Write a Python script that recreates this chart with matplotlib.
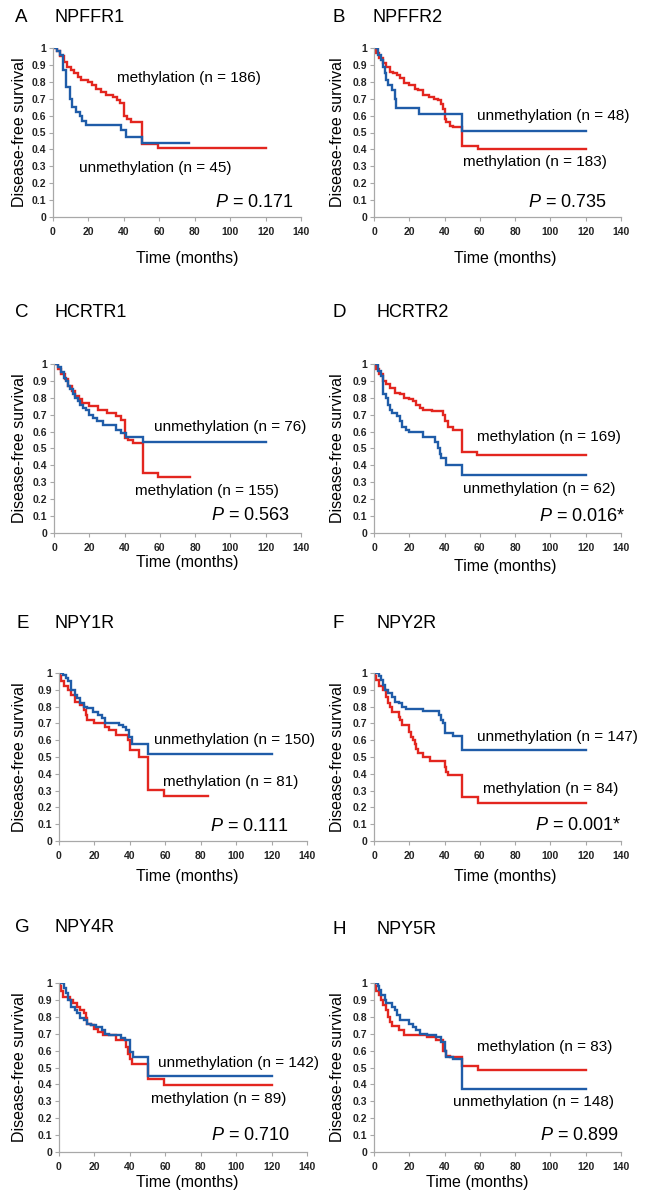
import matplotlib
matplotlib.use("Agg")
import matplotlib.pyplot as plt
from matplotlib import font_manager

# ---- data (time in months, survival fraction) ----
x_ticks = [0, 20, 40, 60, 80, 100, 120, 140]
y_ticks = [0, 0.1, 0.2, 0.3, 0.4, 0.5, 0.6, 0.7, 0.8, 0.9, 1]
y_tick_labels = ["0", "0.1", "0.2", "0.3", "0.4", "0.5", "0.6", "0.7", "0.8", "0.9", "1"]

letters = ["A", "B", "C", "D", "E", "F", "G", "H"]
genes = ["NPFFR1", "NPFFR2", "HCRTR1", "HCRTR2", "NPY1R", "NPY2R", "NPY4R", "NPY5R"]
meth_n = [186, 183, 155, 169, 81, 84, 89, 83]
unmeth_n = [45, 48, 76, 62, 150, 147, 142, 148]
p_values = ["0.171", "0.735", "0.563", "0.016*", "0.111", "0.001*", "0.710", "0.899"]

npffr1_meth_t = [0, 2, 4, 6, 8, 10, 12, 14, 16, 20, 22, 24, 27, 30, 34, 36, 38, 40, 42, 44, 50, 59, 120]
npffr1_meth_s = [1, 0.98, 0.95, 0.92, 0.89, 0.87, 0.85, 0.83, 0.81, 0.80, 0.78, 0.76, 0.74, 0.72, 0.71,
                 0.69, 0.675, 0.60, 0.58, 0.565, 0.43, 0.41, 0.41]
npffr1_unmeth_t = [0, 2, 4, 5.6, 7.5, 9.4, 11, 12.8, 15, 16.6, 18.5, 38.6, 41, 50.5, 77]
npffr1_unmeth_s = [1, 0.98, 0.96, 0.87, 0.77, 0.70, 0.65, 0.62, 0.60, 0.57, 0.545, 0.515, 0.475, 0.435, 0.435]

npffr2_meth_t = [0, 1, 3, 5, 7, 9, 11, 13, 15, 17, 20, 23, 25, 28, 31, 34, 36, 38, 39, 40, 41, 43, 45,
                 50, 59, 120]
npffr2_meth_s = [1, 0.97, 0.94, 0.91, 0.89, 0.86, 0.85, 0.84, 0.82, 0.79, 0.78, 0.76, 0.75, 0.72, 0.71,
                 0.70, 0.69, 0.67, 0.64, 0.58, 0.56, 0.54, 0.53, 0.42, 0.40, 0.40]
npffr2_unmeth_t = [0, 2, 4, 5, 6, 7, 8, 10, 11.7, 12.3, 25.5, 50.1, 120]
npffr2_unmeth_s = [1, 0.96, 0.93, 0.89, 0.85, 0.81, 0.78, 0.75, 0.70, 0.645, 0.61, 0.51, 0.51]

hcrtr1_meth_t = [0, 2, 4, 6, 8, 10, 12, 14, 15.7, 20, 25, 30, 35, 38, 40.2, 42, 45, 50.3, 59.1, 77]
hcrtr1_meth_s = [1, 0.97, 0.94, 0.91, 0.87, 0.84, 0.81, 0.79, 0.77, 0.75, 0.73, 0.71, 0.69, 0.67, 0.56,
                 0.55, 0.53, 0.355, 0.33, 0.33]
hcrtr1_unmeth_t = [0, 2, 4, 5.5, 7, 8, 9, 10.5, 12, 13.5, 15, 16.5, 18, 20, 22, 24.6, 28, 35, 38, 41,
                   50.3, 120]
hcrtr1_unmeth_s = [1, 0.98, 0.95, 0.92, 0.90, 0.87, 0.85, 0.82, 0.80, 0.78, 0.76, 0.74, 0.73, 0.70, 0.68,
                   0.66, 0.64, 0.61, 0.59, 0.57, 0.54, 0.54]

hcrtr2_meth_t = [0, 1, 3, 5, 7, 9, 12, 15, 17, 20, 22, 24, 26, 28, 33, 39, 40, 42, 45, 49.6, 58.6, 120]
hcrtr2_meth_s = [1, 0.97, 0.94, 0.90, 0.88, 0.86, 0.83, 0.82, 0.80, 0.79, 0.78, 0.76, 0.74, 0.73, 0.72,
                 0.70, 0.66, 0.625, 0.61, 0.48, 0.46, 0.46]
hcrtr2_unmeth_t = [0, 2, 4, 5, 7, 8, 9, 10, 13, 15, 16, 18, 20, 27.8, 34.4, 36.3, 37.3, 38.2, 41, 49.6, 120]
hcrtr2_unmeth_s = [1, 0.96, 0.93, 0.82, 0.80, 0.76, 0.73, 0.71, 0.69, 0.66, 0.63, 0.61, 0.595, 0.57, 0.54,
                   0.50, 0.47, 0.445, 0.40, 0.345, 0.345]

npy1r_meth_t = [0, 0.5, 1, 3, 5, 7, 9, 12, 14, 15, 16, 20, 26, 28, 32, 39, 40, 45, 50, 59, 84]
npy1r_meth_s = [1, 0.98, 0.95, 0.92, 0.90, 0.87, 0.83, 0.81, 0.78, 0.75, 0.72, 0.70, 0.68, 0.66, 0.63,
                0.60, 0.54, 0.50, 0.305, 0.27, 0.27]
npy1r_unmeth_t = [0, 2, 4, 5, 7, 9, 10, 12, 14, 16, 19, 22, 24, 26, 34, 36, 38, 39.5, 41, 50, 120]
npy1r_unmeth_s = [1, 0.99, 0.97, 0.95, 0.90, 0.87, 0.85, 0.82, 0.80, 0.79, 0.77, 0.75, 0.73, 0.705, 0.69,
                  0.68, 0.66, 0.62, 0.58, 0.515, 0.515]

npy2r_meth_t = [0, 0.5, 1, 3, 5, 7, 8, 9, 10, 14, 15, 16, 20, 21, 22, 23, 24, 25, 28, 32, 40, 41, 42,
                50, 59, 120]
npy2r_meth_s = [1, 0.98, 0.96, 0.92, 0.90, 0.86, 0.82, 0.80, 0.77, 0.74, 0.72, 0.69, 0.65, 0.62, 0.60,
                0.575, 0.55, 0.525, 0.50, 0.475, 0.44, 0.41, 0.39, 0.26, 0.225, 0.225]
npy2r_unmeth_t = [0, 3, 4, 5, 6, 8, 10, 12, 14, 16, 18, 28, 37, 38, 39, 40, 45, 50, 120]
npy2r_unmeth_s = [1, 0.98, 0.96, 0.93, 0.90, 0.88, 0.86, 0.83, 0.82, 0.80, 0.785, 0.775, 0.75, 0.72,
                  0.70, 0.645, 0.625, 0.54, 0.54]

npy4r_meth_t = [0, 0.5, 1, 2, 6, 8, 10, 12, 14, 15, 16, 18, 20, 22, 25, 32, 38, 39, 40, 41, 50, 59, 120]
npy4r_meth_s = [1, 0.98, 0.95, 0.92, 0.90, 0.88, 0.86, 0.84, 0.82, 0.79, 0.76, 0.75, 0.73, 0.71, 0.69,
                0.66, 0.62, 0.58, 0.55, 0.52, 0.43, 0.395, 0.395]
npy4r_unmeth_t = [0, 3, 4, 5, 6.5, 9, 10, 12, 14, 16, 18, 21, 24, 26, 28, 35, 37, 40, 42, 50, 120]
npy4r_unmeth_s = [1, 0.97, 0.94, 0.90, 0.86, 0.84, 0.82, 0.79, 0.78, 0.755, 0.75, 0.74, 0.72, 0.70, 0.69,
                  0.675, 0.66, 0.59, 0.565, 0.45, 0.45]

npy5r_meth_t = [0, 0.5, 1, 3, 4, 5, 7, 8, 9, 10, 14, 17, 30, 35, 39, 41, 43, 50, 59, 120]
npy5r_meth_s = [1, 0.98, 0.95, 0.93, 0.90, 0.87, 0.84, 0.80, 0.77, 0.745, 0.72, 0.695, 0.68, 0.665, 0.60,
                0.57, 0.56, 0.51, 0.485, 0.485]
npy5r_unmeth_t = [0, 2, 3, 4, 6, 7, 10, 12, 13, 15, 20, 22, 24, 26, 30, 35, 38, 40, 41, 45, 50, 120]
npy5r_unmeth_s = [1, 0.98, 0.96, 0.93, 0.90, 0.88, 0.86, 0.84, 0.81, 0.78, 0.76, 0.74, 0.72, 0.70, 0.69,
                  0.68, 0.65, 0.60, 0.565, 0.55, 0.37, 0.37]

meth_curves = [(npffr1_meth_t, npffr1_meth_s), (npffr2_meth_t, npffr2_meth_s),
               (hcrtr1_meth_t, hcrtr1_meth_s), (hcrtr2_meth_t, hcrtr2_meth_s),
               (npy1r_meth_t, npy1r_meth_s), (npy2r_meth_t, npy2r_meth_s),
               (npy4r_meth_t, npy4r_meth_s), (npy5r_meth_t, npy5r_meth_s)]
unmeth_curves = [(npffr1_unmeth_t, npffr1_unmeth_s), (npffr2_unmeth_t, npffr2_unmeth_s),
                 (hcrtr1_unmeth_t, hcrtr1_unmeth_s), (hcrtr2_unmeth_t, hcrtr2_unmeth_s),
                 (npy1r_unmeth_t, npy1r_unmeth_s), (npy2r_unmeth_t, npy2r_unmeth_s),
                 (npy4r_unmeth_t, npy4r_unmeth_s), (npy5r_unmeth_t, npy5r_unmeth_s)]

# ---- layout (pixels on a 650x1200 canvas) ----
W, H = 650, 1200
# left, top, right, bottom of each plot area
boxes = [(53, 48, 301, 217), (374, 48, 621, 217),
         (54, 364, 301, 533), (374, 364, 621, 533),
         (59, 673, 307, 841), (374, 673, 621, 841),
         (59, 983, 307, 1152), (374, 983, 621, 1152)]
# letter x, title y, gene name x
title_pos = [(15, 17, 55), (332, 17, 372), (15, 313, 55), (332, 313, 377),
             (16, 623, 55), (332, 623, 377), (15, 928, 55), (332, 929, 377)]
# label positions in data coords: methylation, unmethylation, P (right edge)
meth_xy = [(36.2, 0.82), (50.5, 0.323), (45.9, 0.247), (58.1, 0.569),
           (58.5, 0.351), (61.9, 0.312), (51.7, 0.311), (58.1, 0.624)]
unmeth_xy = [(14.5, 0.287), (58.1, 0.596), (56.7, 0.628), (50.5, 0.263),
             (53.6, 0.60), (58.1, 0.619), (56.0, 0.525), (44.8, 0.297)]
p_xy = [(135.7, 0.083), (131.9, 0.087), (133.4, 0.105), (142.3, 0.095),
        (129.6, 0.087), (140.4, 0.093), (130.6, 0.099), (138.9, 0.099)]
# x label centre (axes fraction) and its drop below the axis (pixels)
xlabel_pos = [(0.54, 41), (0.53, 41), (0.54, 30), (0.53, 34),
              (0.516, 35), (0.53, 35), (0.516, 31), (0.417, 31)]
ylabel_gap = [33, 36, 34, 36, 39, 36, 39, 36]

RED = "#e3261f"
BLUE = "#1f5ca8"
SPINE = "#a8a8a8"

plt.rcParams["font.family"] = ["Liberation Sans", "DejaVu Sans"]
plt.rcParams["mathtext.fontset"] = "custom"
plt.rcParams["mathtext.rm"] = "Liberation Sans"
plt.rcParams["mathtext.it"] = "Liberation Sans:italic"

names = {f.name for f in font_manager.fontManager.ttflist}
tick_family = "Liberation Sans Narrow" if "Liberation Sans Narrow" in names else "Liberation Sans"

fig = plt.figure(figsize=(W / 100, H / 100), dpi=100)

for i in range(8):
    l, t, r, b = boxes[i]
    ax = fig.add_axes([l / W, 1 - b / H, (r - l) / W, (b - t) / H])

    mt, ms = meth_curves[i]
    ut, us = unmeth_curves[i]
    ax.step(mt, ms, where="post", color=RED, lw=1.7, solid_joinstyle="miter")
    ax.step(ut, us, where="post", color=BLUE, lw=1.7, solid_joinstyle="miter")

    ax.set_xlim(0, 140)
    ax.set_ylim(0, 1)
    ax.set_xticks(x_ticks)
    ax.set_yticks(y_ticks)
    ax.set_yticklabels(y_tick_labels)
    for side in ("top", "right"):
        ax.spines[side].set_visible(False)
    for side in ("left", "bottom"):
        ax.spines[side].set_color(SPINE)
        ax.spines[side].set_linewidth(0.9)
    ax.tick_params(length=3, width=0.8, color=SPINE, pad=2, labelsize=7.5, labelcolor="#222222")
    ax.tick_params(axis="x", pad=4)
    for lab in ax.get_xticklabels() + ax.get_yticklabels():
        lab.set_family(tick_family)
        lab.set_fontweight("bold")

    ax.set_xlabel("Time (months)", fontsize=11.5)
    ax.xaxis.set_label_coords(xlabel_pos[i][0], -xlabel_pos[i][1] / (b - t))
    ax.xaxis.label.set_va("center")
    ax.set_ylabel("Disease-free survival", fontsize=11.5)
    ax.yaxis.set_label_coords(-ylabel_gap[i] / (r - l), 0.5)
    ax.yaxis.label.set_va("center")

    ax.text(meth_xy[i][0], meth_xy[i][1], "methylation (n = %d)" % meth_n[i],
            fontsize=11, ha="left", va="center", clip_on=False)
    ax.text(unmeth_xy[i][0], unmeth_xy[i][1], "unmethylation (n = %d)" % unmeth_n[i],
            fontsize=11, ha="left", va="center", clip_on=False)
    ax.text(p_xy[i][0], p_xy[i][1], "$P$ = " + p_values[i],
            fontsize=13, ha="right", va="center", clip_on=False)

    lx, ty, gx = title_pos[i]
    fig.text(lx / W, 1 - ty / H, letters[i], fontsize=13.5, ha="left", va="center")
    fig.text(gx / W, 1 - ty / H, genes[i], fontsize=13, ha="left", va="center")

fig.savefig("out.png", dpi=100)
